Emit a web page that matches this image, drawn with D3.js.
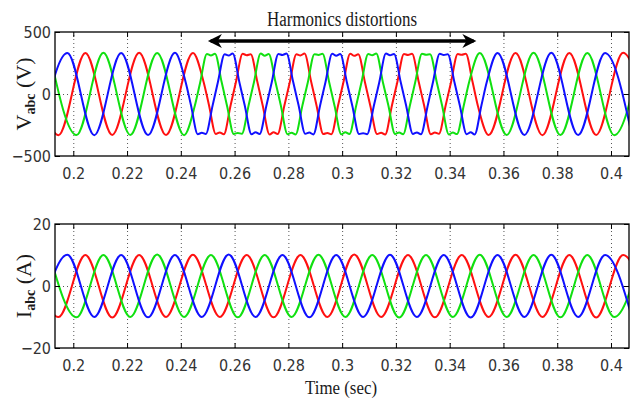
<!DOCTYPE html>
<html>
<head>
<meta charset="utf-8">
<script src="https://cdn.jsdelivr.net/npm/d3@7"></script>
<style>
  body { margin: 0; background: #fff; }
  .tick text { font-family: "Liberation Sans Narrow", "DejaVu Sans Condensed", Arial, sans-serif; font-size: 16px; fill: #333; }
  .lbl { font-family: "Liberation Serif", "Times New Roman", serif; fill: #1a1a1a; }
</style>
</head>
<body>
<div id="chart"></div>
<script>
// time axis
var xTicks = [0.2, 0.22, 0.24, 0.26, 0.28, 0.3, 0.32, 0.34, 0.36, 0.38, 0.4];
var xTickLabels = ["0.2", "0.22", "0.24", "0.26", "0.28", "0.3", "0.32", "0.34", "0.36", "0.38", "0.4"];
var timeRange = [0.1932, 0.4067];
var distortionSpan = [0.25, 0.35];

var vTicks = [-500, 0, 500];
var iTicks = [-20, 0, 20];

// phase voltages [t, V] (peaks, troughs, and the shoulders in the distorted part)
var vRed = [[0.1845, 330], [0.1945, -332], [0.2045, 331], [0.2145, -330], [0.2245, 332], [0.2345, -331], [0.2445, 330],
    [0.2485, 95], [0.2505, -92],
    [0.2530, -322], [0.2545, -310], [0.2560, -325], [0.2585, -93], [0.2605, 96],
    [0.2630, 324], [0.2645, 313], [0.2660, 321], [0.2685, 94], [0.2705, -97],
    [0.2730, -326], [0.2745, -309], [0.2760, -322], [0.2785, -95], [0.2805, 92],
    [0.2830, 321], [0.2845, 311], [0.2860, 326], [0.2885, 97], [0.2905, -94],
    [0.2930, -323], [0.2945, -314], [0.2960, -324], [0.2985, -91], [0.3005, 96],
    [0.3030, 325], [0.3045, 308], [0.3060, 320], [0.3085, 93], [0.3105, -96],
    [0.3130, -322], [0.3145, -312], [0.3160, -327], [0.3185, -94], [0.3205, 93],
    [0.3230, 323], [0.3245, 315], [0.3260, 324], [0.3285, 96], [0.3305, -92],
    [0.3330, -325], [0.3345, -310], [0.3360, -321], [0.3385, -93], [0.3405, 95],
    [0.3430, 322], [0.3445, 316], [0.3460, 325], [0.3485, 98], [0.3505, -96],
    [0.3545, -331], [0.3645, 330], [0.3745, -332], [0.3845, 331], [0.3945, -330], [0.4045, 332], [0.4145, -330]];

var vGreen = [[0.1912, 330], [0.2012, -331], [0.2112, 332], [0.2212, -330], [0.2312, 331], [0.2412, -332],
    [0.2452, -95], [0.2472, 93],
    [0.2497, 323], [0.2512, 311], [0.2527, 325], [0.2552, 94], [0.2572, -96],
    [0.2597, -322], [0.2612, -314], [0.2627, -321], [0.2652, -92], [0.2672, 95],
    [0.2697, 326], [0.2712, 309], [0.2727, 323], [0.2752, 97], [0.2772, -93],
    [0.2797, -324], [0.2812, -312], [0.2827, -326], [0.2852, -94], [0.2872, 91],
    [0.2897, 321], [0.2912, 315], [0.2927, 324], [0.2952, 93], [0.2972, -97],
    [0.2997, -325], [0.3012, -308], [0.3027, -322], [0.3052, -96], [0.3072, 94],
    [0.3097, 323], [0.3112, 313], [0.3127, 327], [0.3152, 91], [0.3172, -92],
    [0.3197, -322], [0.3212, -310], [0.3227, -324], [0.3252, -93], [0.3272, 96],
    [0.3297, 325], [0.3312, 316], [0.3327, 321], [0.3352, 95], [0.3372, -95],
    [0.3397, -326], [0.3412, -311], [0.3427, -323], [0.3452, -97], [0.3472, 93],
    [0.3512, 331], [0.3612, -330], [0.3712, 332], [0.3812, -331], [0.3912, 330], [0.4012, -332], [0.4112, 331]];

var vBlue = [[0.1878, -330], [0.1978, 331], [0.2078, -332], [0.2178, 330], [0.2278, -331], [0.2378, 332],
    [0.2418, 95], [0.2438, -93],
    [0.2463, -324], [0.2478, -313], [0.2493, -322], [0.2518, -94], [0.2538, 97],
    [0.2563, 321], [0.2578, 310], [0.2593, 327], [0.2618, 93], [0.2638, -95],
    [0.2663, -325], [0.2678, -309], [0.2693, -323], [0.2718, -97], [0.2738, 92],
    [0.2763, 323], [0.2778, 315], [0.2793, 326], [0.2818, 96], [0.2838, -91],
    [0.2863, -321], [0.2878, -311], [0.2893, -326], [0.2918, -92], [0.2938, 95],
    [0.2963, 324], [0.2978, 308], [0.2993, 322], [0.3018, 91], [0.3038, -96],
    [0.3063, -323], [0.3078, -316], [0.3093, -324], [0.3118, -95], [0.3138, 93],
    [0.3163, 326], [0.3178, 312], [0.3193, 323], [0.3218, 94], [0.3238, -92],
    [0.3263, -322], [0.3278, -310], [0.3293, -325], [0.3318, -96], [0.3338, 97],
    [0.3363, 325], [0.3378, 314], [0.3393, 321], [0.3418, 92], [0.3438, -94],
    [0.3463, -324], [0.3478, -309], [0.3493, -326], [0.3518, -93], [0.3538, 96],
    [0.3578, 331], [0.3678, -330], [0.3778, 332], [0.3878, -331], [0.3978, 330], [0.4078, -332]];

// phase currents [t, A]
var iRed = [[0.1845, 10.1], [0.1945, -10], [0.2045, 10], [0.2145, -10.2], [0.2245, 10], [0.2345, -10], [0.2445, 10.1],
    [0.2545, -10], [0.2645, 10], [0.2745, -10.1], [0.2845, 10], [0.2945, -10], [0.3045, 10.2], [0.3145, -10],
    [0.3245, 10], [0.3345, -10.1], [0.3445, 10], [0.3545, -10], [0.3645, 10.1], [0.3745, -10], [0.3845, 10],
    [0.3945, -10.2], [0.4045, 10], [0.4145, -10]];
var iGreen = [[0.1912, 10], [0.2012, -10.1], [0.2112, 10], [0.2212, -10], [0.2312, 10.2], [0.2412, -10], [0.2512, 10],
    [0.2612, -10.1], [0.2712, 10], [0.2812, -10], [0.2912, 10.1], [0.3012, -10], [0.3112, 10], [0.3212, -10.2],
    [0.3312, 10], [0.3412, -10], [0.3512, 10.1], [0.3612, -10], [0.3712, 10], [0.3812, -10.1], [0.3912, 10],
    [0.4012, -10], [0.4112, 10.1]];
var iBlue = [[0.1878, -10], [0.1978, 10.1], [0.2078, -10], [0.2178, 10], [0.2278, -10.1], [0.2378, 10], [0.2478, -10],
    [0.2578, 10.2], [0.2678, -10], [0.2778, 10], [0.2878, -10.1], [0.2978, 10], [0.3078, -10], [0.3178, 10.1],
    [0.3278, -10], [0.3378, 10], [0.3478, -10.2], [0.3578, 10], [0.3678, -10], [0.3778, 10.1], [0.3878, -10],
    [0.3978, 10], [0.4078, -10.1]];

var phaseColors = ["#ff1010", "#10e010", "#1010ff"];

var W = 637, H = 400;
var left = 55, right = 629;

var svg = d3.select("#chart").append("svg")
    .attr("width", W)
    .attr("height", H);

var x = d3.scaleLinear().domain(timeRange).range([left, right]);

function drawPanel(id, top, bottom, yDomain, yTicks, series, label, unit) {
    var y = d3.scaleLinear().domain(yDomain).range([bottom, top]);
    var g = svg.append("g");

    g.append("clipPath").attr("id", "clip" + id)
        .append("rect")
        .attr("x", left).attr("y", top)
        .attr("width", right - left).attr("height", bottom - top);

    // dotted grid
    g.append("g")
        .attr("transform", "translate(0," + bottom + ")")
        .call(d3.axisBottom(x).tickValues(xTicks).tickSize(-(bottom - top)).tickFormat(""))
        .call(function(s) {
            s.select(".domain").remove();
            s.selectAll("line").attr("stroke", "#555").attr("stroke-dasharray", "1,3");
        });
    g.append("g")
        .attr("transform", "translate(" + left + ",0)")
        .call(d3.axisLeft(y).tickValues([0]).tickSize(-(right - left)).tickFormat(""))
        .call(function(s) {
            s.select(".domain").remove();
            s.selectAll("line").attr("stroke", "#555").attr("stroke-dasharray", "1,3");
        });

    // waveforms
    var line = d3.line()
        .x(function(d) { return x(d[0]); })
        .y(function(d) { return y(d[1]); })
        .curve(d3.curveMonotoneX);

    g.append("g").attr("clip-path", "url(#clip" + id + ")")
        .selectAll("path")
        .data(series)
        .enter()
        .append("path")
        .attr("fill", "none")
        .attr("stroke", function(d, i) { return phaseColors[i]; })
        .attr("stroke-width", 2)
        .attr("d", line);

    // axes, ticks pointing inwards
    g.append("g")
        .attr("transform", "translate(0," + bottom + ")")
        .call(d3.axisBottom(x).tickValues(xTicks).tickSize(-5).tickPadding(12)
            .tickFormat(function(d, i) { return xTickLabels[i]; }))
        .call(function(s) { s.select(".domain").remove(); });
    g.append("g")
        .attr("transform", "translate(0," + top + ")")
        .call(d3.axisTop(x).tickValues(xTicks).tickSize(-5).tickFormat(""))
        .call(function(s) { s.select(".domain").remove(); });
    g.append("g")
        .attr("transform", "translate(" + left + ",0)")
        .call(d3.axisLeft(y).tickValues(yTicks).tickSize(-5).tickPadding(4))
        .call(function(s) { s.select(".domain").remove(); });
    g.append("g")
        .attr("transform", "translate(" + right + ",0)")
        .call(d3.axisRight(y).tickValues(yTicks).tickSize(-5).tickFormat(""))
        .call(function(s) { s.select(".domain").remove(); });

    g.selectAll(".tick line").filter(function() { return !this.getAttribute("stroke-dasharray"); })
        .attr("stroke", "#000");

    g.append("rect")
        .attr("x", left).attr("y", top)
        .attr("width", right - left).attr("height", bottom - top)
        .attr("fill", "none").attr("stroke", "#000").attr("stroke-width", 1.3);

    // y label with subscript
    var t = g.append("text")
        .attr("class", "lbl")
        .attr("transform", "translate(31," + y(0) + ") rotate(-90)")
        .attr("text-anchor", "middle")
        .attr("font-size", 22);
    t.append("tspan").text(label);
    t.append("tspan").attr("font-size", 14).attr("font-weight", "bold").attr("dy", 4).text("abc");
    t.append("tspan").attr("dy", -4).text(" (" + unit + ")");

    return y;
}

drawPanel("v", 32, 156, [-500, 500], vTicks, [vRed, vGreen, vBlue], "V", "V");
drawPanel("i", 224, 348, [-20, 20], iTicks, [iRed, iGreen, iBlue], "I", "A");

// harmonics arrow
var defs = svg.append("defs");
defs.append("marker")
    .attr("id", "head")
    .attr("viewBox", "0 0 10 10")
    .attr("refX", 8).attr("refY", 5)
    .attr("markerWidth", 4.5).attr("markerHeight", 4)
    .attr("orient", "auto-start-reverse")
    .append("path")
    .attr("d", "M0,0 L10,5 L0,10 L3,5 Z")
    .attr("fill", "#000");

svg.append("line")
    .attr("x1", x(distortionSpan[0]) + 3).attr("x2", x(distortionSpan[1]) - 3)
    .attr("y1", 41).attr("y2", 41)
    .attr("stroke", "#000").attr("stroke-width", 3.5)
    .attr("marker-start", "url(#head)")
    .attr("marker-end", "url(#head)");

svg.append("text")
    .attr("class", "lbl")
    .attr("x", 342).attr("y", 26)
    .attr("text-anchor", "middle")
    .attr("font-size", 20)
    .attr("textLength", 150)
    .attr("lengthAdjust", "spacingAndGlyphs")
    .text("Harmonics distortions");

svg.append("text")
    .attr("class", "lbl")
    .attr("x", 341).attr("y", 394)
    .attr("text-anchor", "middle")
    .attr("font-size", 19)
    .attr("textLength", 72)
    .attr("lengthAdjust", "spacingAndGlyphs")
    .text("Time (sec)");
</script>
</body>
</html>
